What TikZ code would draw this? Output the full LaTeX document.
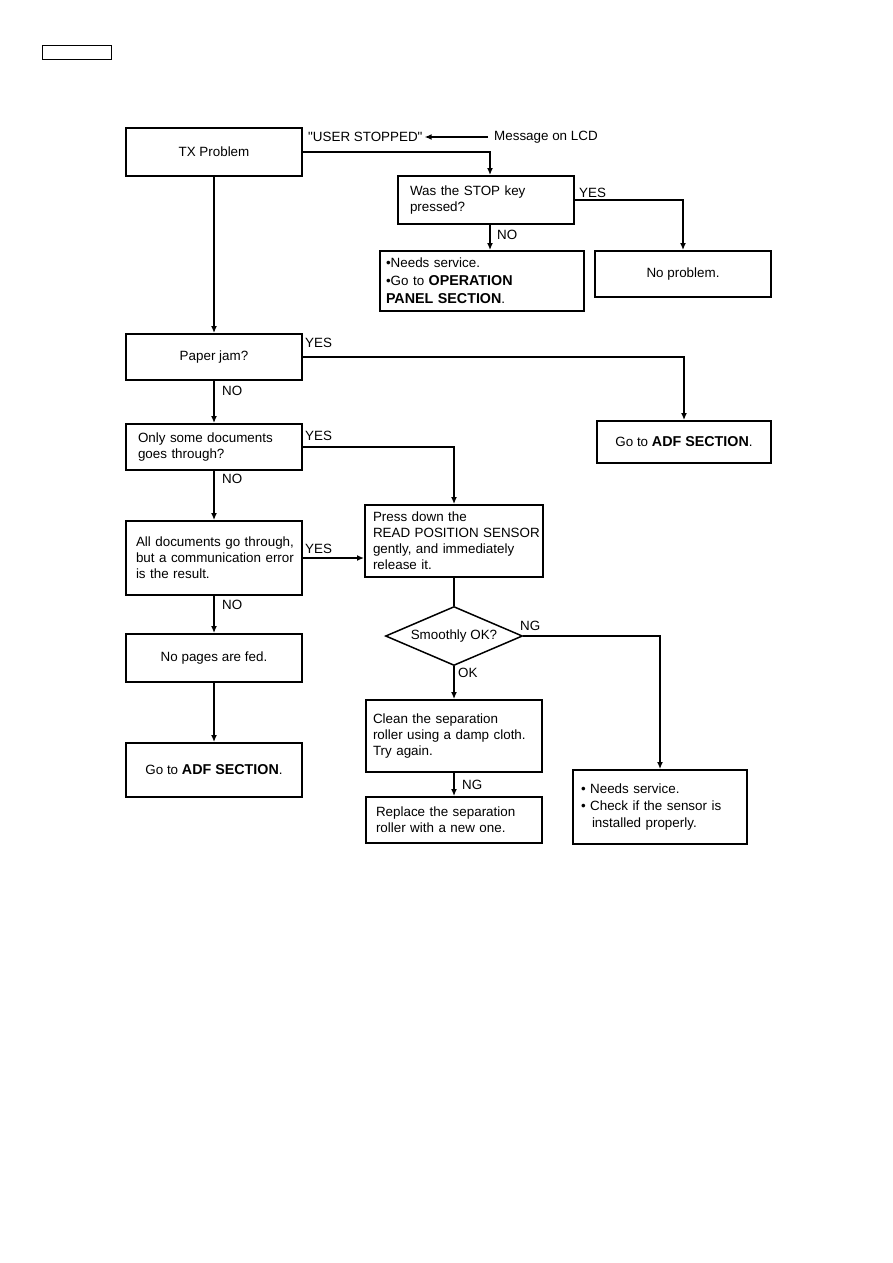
\documentclass[tikz,border=0pt]{standalone}
\usepackage{fontspec}
\setmainfont{Liberation Sans}[Ligatures=TeXOff]
\usetikzlibrary{arrows.meta,shapes.geometric}
\newcommand\bx[1]{{\fontsize{14.3}{18}\selectfont\bfseries #1}}
\newcommand\ml[1]{\mbox{#1}}
\hbadness=10000 \hfuzz=100pt
\begin{document}
\begin{tikzpicture}[x=1pt,y=-1pt,
  box/.style={draw,line width=1.9pt,inner sep=0pt,font=\fontsize{13.4}{16}\selectfont},
  lbl/.style={inner sep=0pt,anchor=west,font=\fontsize{13.4}{16}\selectfont},
  con/.style={line width=1.6pt},
  arr/.style={con,-{Latex[length=7pt,width=6pt]}}]
\useasboundingbox[fill=white] (0,0) rectangle (893,1263);

% header box
\node[draw,line width=1pt,minimum width=69pt,minimum height=14pt,inner sep=0pt] (hdr) at (76.5,53) {};

% boxes
\node[box,minimum width=176pt,minimum height=48pt,align=center] (tx) at (214,152) {TX Problem};
\node[box,minimum width=176pt,minimum height=48pt,text width=152pt,align=left] (stop) at (486,200) {\ml{Was the STOP key}\\\ml{pressed?}};
\node[box,minimum width=176pt,minimum height=46pt,align=center] (noprob) at (683,274) {No problem.};
\node[box,minimum width=204pt,minimum height=60pt,text width=192pt,align=left,font=\fontsize{13.4}{18}\selectfont] (svc1) at (482,281)
  {\ml{\textbullet Needs service.}\\\ml{\textbullet Go to \bx{OPERATION}}\\\ml{\bx{PANEL SECTION}.}};
\node[box,minimum width=176pt,minimum height=46pt,align=center] (paper) at (214,357) {Paper jam?};
\node[box,minimum width=174pt,minimum height=42pt,align=center] (adf1) at (684,442) {Go to \bx{ADF SECTION}.};
\node[box,minimum width=176pt,minimum height=46pt,text width=152pt,align=left] (only) at (214,447) {\ml{Only some documents}\\\ml{goes through?}};
\node[box,minimum width=176pt,minimum height=74pt,text width=156pt,align=left] (all) at (214,558) {\ml{All documents go through,}\\\ml{but a communication error}\\\ml{is the result.}};
\node[box,minimum width=178pt,minimum height=72pt,text width=162pt,align=left] (press) at (454,541) {\ml{Press down the}\\\ml{READ POSITION SENSOR}\\\ml{gently, and immediately}\\\ml{release it.}};
\node[box,minimum width=176pt,minimum height=48pt,align=center] (nopages) at (214,658) {No pages are fed.};
\node[box,minimum width=176pt,minimum height=54pt,align=center] (adf2) at (214,770) {Go to \bx{ADF SECTION}.};
\node[box,shape=diamond,aspect=2.32,minimum width=137pt,minimum height=59pt,line width=1.5pt] (dia) at (454,636) {Smoothly OK?};
\node[box,minimum width=176pt,minimum height=72pt,text width=162pt,align=left] (clean) at (454,736) {\ml{Clean the separation}\\\ml{roller using a damp cloth.}\\\ml{Try again.}};
\node[box,minimum width=176pt,minimum height=46pt,text width=156pt,align=left] (replace) at (454,820) {\ml{Replace the separation}\\\ml{roller with a new one.}};
\node[box,minimum width=174pt,minimum height=74pt,text width=158pt,align=left,font=\fontsize{13.4}{17}\selectfont] (svc2) at (660,807)
  {\ml{\textbullet\ Needs service.}\\\ml{\textbullet\ Check if the sensor is}\\\ml{\hspace*{11pt}installed properly.}};

% message labels
\node[lbl] (user) at (308,137) {"USER STOPPED"};
\node[lbl] (msg) at (494,137) {Message on LCD};

% branch labels
\node[lbl] (l1) at (579,193) {YES};
\node[lbl] (l2) at (497,235) {NO};
\node[lbl] (l3) at (305,343) {YES};
\node[lbl] (l4) at (222,391) {NO};
\node[lbl] (l5) at (305,436) {YES};
\node[lbl] (l6) at (222,479) {NO};
\node[lbl] (l7) at (305,549) {YES};
\node[lbl] (l8) at (222,605) {NO};
\node[lbl] (l9) at (520,626) {NG};
\node[lbl] (l10) at (458,673) {OK};
\node[lbl] (l11) at (462,785) {NG};

% connectors
\draw[arr,shorten <=6pt,shorten >=2pt] (msg.west) -- (user.east);
\draw[arr] (tx.east) -| ([xshift=4pt]stop.north);
\draw[arr] (stop.east) -| (noprob.north);
\draw[arr] ([xshift=4pt]stop.south) -- ([xshift=4pt]stop.south |- svc1.north);
\draw[arr] (tx.south) -- (paper.north);
\draw[arr] (paper.east) -| (adf1.north);
\draw[arr] (paper.south) -- (only.north);
\draw[arr] (only.east) -| (press.north);
\draw[arr] (only.south) -- (all.north);
\draw[arr] (all.east) -- (all.east -| press.west);
\draw[arr] (all.south) -- (nopages.north);
\draw[arr] (nopages.south) -- (adf2.north);
\draw[con] (press.south) -- (dia.north);
\draw[arr] (dia.east) -| (svc2.north);
\draw[arr] (dia.south) -- (clean.north);
\draw[arr] (clean.south) -- (replace.north);
\end{tikzpicture}
\end{document}
